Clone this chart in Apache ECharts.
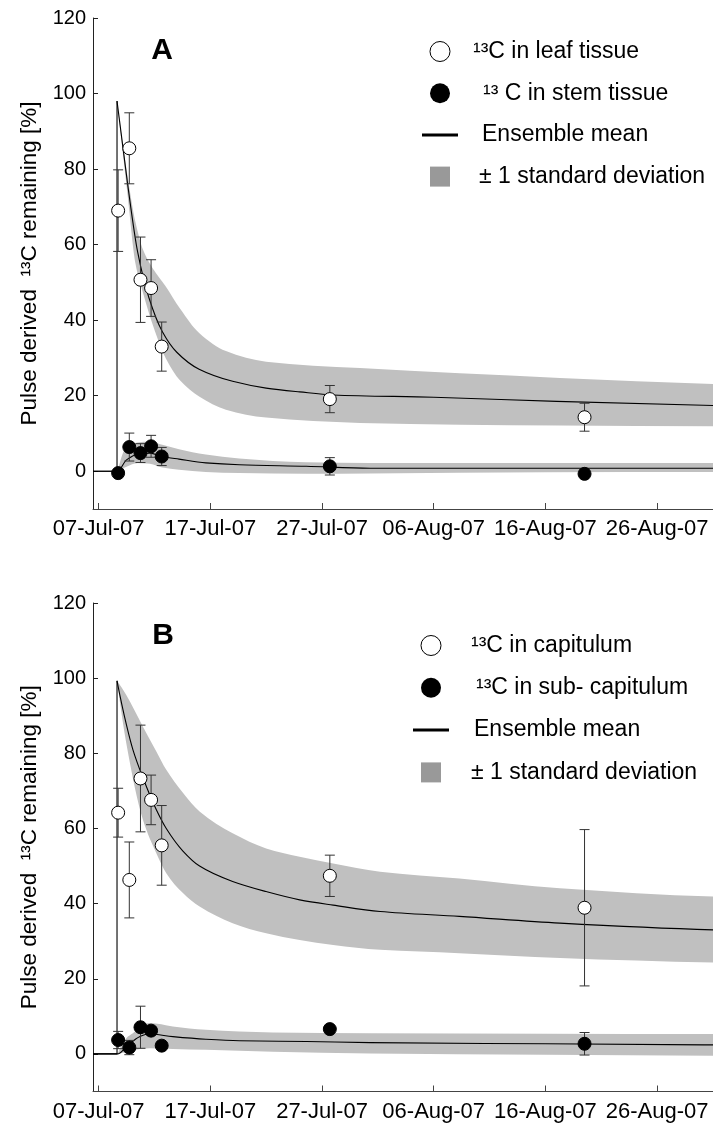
<!DOCTYPE html>
<html>
<head>
<meta charset="utf-8">
<script src="https://cdn.jsdelivr.net/npm/echarts@6/dist/echarts.min.js"></script>
<style>
  html, body { margin: 0; padding: 0; background: #ffffff; }
  #chart { width: 713px; height: 1124px; }
</style>
</head>
<body>
<div id="chart"></div>
<script>
// Time is counted in days after 07-Jul-07.
const tickDays = [0, 10, 20, 30, 40, 50];
const tickLabels = ['07-Jul-07', '17-Jul-07', '27-Jul-07', '06-Aug-07', '16-Aug-07', '26-Aug-07'];
const yTicks = [0, 20, 40, 60, 80, 100, 120];

// ---- Panel A: leaf and stem tissue ----
const sampleDaysA = [1.75, 2.75, 3.75, 4.7, 5.65, 20.7, 43.5];
const leafValues = [69, 85.5, 50.7, 48.5, 33, 19.1, 14.3];
const leafSd = [10.8, 9.4, 11.3, 7.5, 6.5, 3.6, 3.7];
const stemValues = [-0.5, 6.4, 4.8, 6.6, 3.9, 1.3, -0.7];
const stemSd = [0, 3.7, 2.5, 2.9, 2.4, 2.3, 0];

const leafMeanDays = [1.65, 2.6, 3.5, 4.5, 5.7, 7, 9, 12, 15, 18, 21, 30, 41, 55];
const leafMean = [98, 76, 58, 46, 37, 31.5, 27, 23.8, 22, 21, 20.2, 19.6, 18.5, 17.4];
const leafBandDays = [1.65, 2.6, 3.3, 4.0, 4.9, 6.0, 7.3, 9.0, 11.4, 15, 23.4, 41.3, 55];
const leafUpper = [98, 78, 66, 58.5, 53.5, 49, 43, 36.6, 31.8, 29, 27.3, 24.7, 23.1];
const leafLower = [98, 73, 55, 47, 38.3, 30, 24, 19.8, 16.3, 14.2, 12.8, 12.1, 11.9];

const stemMeanDays = [-0.5, 1.7, 2.5, 3.5, 4.6, 5.7, 7.2, 9.6, 12.6, 18.6, 24.3, 40, 55];
const stemMean = [0, 0, 3.0, 4.5, 4.8, 3.9, 3.2, 2.2, 1.7, 1.3, 0.8, 0.8, 0.8];
const stemBandDays = [1.7, 2.5, 3.5, 4.6, 5.7, 7.2, 9.6, 12.6, 18.6, 24.3, 40, 55];
const stemUpper = [0, 6.5, 7.6, 7.9, 7.0, 5.8, 4.4, 3.4, 2.4, 2.2, 2.2, 2.2];
const stemLower = [0, 1.2, 2.2, 2.0, 1.0, 0.4, -0.2, -0.5, -0.7, -0.6, -0.3, -0.2];

// ---- Panel B: capitulum and sub-capitulum ----
const sampleDaysB = [1.75, 2.75, 3.75, 4.7, 5.65, 20.7, 43.5];
const capValues = [64.2, 46.3, 73.3, 67.6, 55.5, 47.4, 38.9];
const capSd = [6.5, 10.1, 14.2, 6.6, 10.6, 5.5, 20.8];
const subValues = [3.7, 1.7, 7.1, 6.2, 2.2, 6.6, 2.7];
const subSd = [2.3, 1.9, 5.6, 0, 0, 0, 3.0];

const capMeanDays = [1.65, 2.5, 3.07, 3.97, 5.17, 6.06, 7.55, 9.04, 12, 15, 18, 21, 25.2, 32.3, 41.3, 55];
const capMean = [99.3, 87.5, 81, 73.5, 65, 60, 54, 50, 45.9, 43.2, 41, 39.6, 37.9, 36.6, 34.8, 33];
const capBandDays = [1.65, 2.48, 3.97, 5.17, 6.06, 7.55, 9.04, 12, 15, 18, 21, 25.2, 32.3, 41.3, 55];
const capUpper = [99.3, 95.5, 87.1, 80.5, 75.6, 69.5, 64.5, 58.7, 54.7, 52.5, 50.7, 48.5, 46.7, 44.1, 41.9];
const capLower = [99.3, 82.7, 62.3, 53.4, 48.1, 42.8, 39.2, 34.8, 32.1, 30.3, 29, 27.7, 26.8, 25.5, 24.3];

const subMeanDays = [-0.5, 1.7, 2.48, 3.67, 4.5, 6.65, 9.6, 12.6, 18.6, 24.3, 40, 55];
const subMean = [0, 0, 1.9, 4.6, 5.3, 4.6, 3.9, 3.5, 3.3, 3.0, 2.7, 2.4];
const subBandDays = [1.7, 2.48, 3.07, 4.57, 6.65, 9.6, 15.6, 24.3, 40, 55];
const subUpper = [0, 4.2, 5.5, 8.2, 7.3, 6.4, 5.7, 5.5, 5.4, 5.3];
const subLower = [0, 0.5, 1.0, 1.5, 1.3, 1.1, 0.6, 0.1, -0.2, -0.5];

const FONT = 'Liberation Sans, Arial, Helvetica, sans-serif';
const X_MIN = -0.5, X_MAX = 55;
const MEAN_NAME = 'Ensemble mean';
const SD_NAME = '\u00b1 1 standard deviation';

const zip = (xs, ys) => xs.map((x, i) => [x, ys[i]]);

// Shape-preserving piecewise cubic through pixel points (x strictly increasing).
// Returns cubic Bezier segments [c1x, c1y, c2x, c2y, x, y].
function pchipSegments(p) {
  const n = p.length;
  const h = [], d = [], m = new Array(n);
  for (let i = 0; i < n - 1; i++) {
    h[i] = p[i + 1][0] - p[i][0];
    d[i] = (p[i + 1][1] - p[i][1]) / h[i];
  }
  const endSlope = (h0, h1, d0, d1) => {
    let s = ((2 * h0 + h1) * d0 - h0 * d1) / (h0 + h1);
    if (Math.sign(s) !== Math.sign(d0)) s = 0;
    else if (Math.sign(d0) !== Math.sign(d1) && Math.abs(s) > Math.abs(3 * d0)) s = 3 * d0;
    return s;
  };
  if (n === 2) { m[0] = m[1] = d[0]; }
  else {
    for (let i = 1; i < n - 1; i++) {
      if (d[i - 1] * d[i] <= 0) m[i] = 0;
      else {
        const w1 = 2 * h[i] + h[i - 1], w2 = h[i] + 2 * h[i - 1];
        m[i] = (w1 + w2) / (w1 / d[i - 1] + w2 / d[i]);
      }
    }
    m[0] = endSlope(h[0], h[1], d[0], d[1]);
    m[n - 1] = endSlope(h[n - 2], h[n - 3], d[n - 2], d[n - 3]);
  }
  const segs = [];
  for (let i = 0; i < n - 1; i++) {
    const t = h[i] / 3;
    segs.push([p[i][0] + t, p[i][1] + m[i] * t, p[i + 1][0] - t, p[i + 1][1] - m[i + 1] * t, p[i + 1][0], p[i + 1][1]]);
  }
  return segs;
}

function curvePath(p) {
  let s = 'M' + p[0][0] + ' ' + p[0][1];
  pchipSegments(p).forEach(c => { s += 'C' + c.join(' '); });
  return s;
}

// Shaded ±1 SD envelope: upper edge forward, lower edge back, closed.
function band(gi, days, upper, lower) {
  return {
    type: 'custom', name: SD_NAME, xAxisIndex: gi, yAxisIndex: gi, silent: true, z: 1, clip: true,
    data: days.map((d, i) => [d, lower[i], upper[i]]),
    encode: { x: 0, y: [1, 2] },
    renderItem: function (params, api) {
      if (params.dataIndex !== 0) return null;
      const up = days.map((d, i) => api.coord([d, upper[i]]));
      const lo = days.map((d, i) => api.coord([d, lower[i]]));
      let path = curvePath(up);
      const n = lo.length;
      path += 'L' + lo[n - 1][0] + ' ' + lo[n - 1][1];
      const segs = pchipSegments(lo);
      for (let i = n - 2; i >= 0; i--) {
        const c = segs[i];
        path += 'C' + [c[2], c[3], c[0], c[1], lo[i][0], lo[i][1]].join(' ');
      }
      path += 'Z';
      return { type: 'path', shape: { pathData: path }, style: { fill: '#c0c0c0', stroke: null } };
    }
  };
}

function meanCurve(gi, days, vals) {
  return {
    type: 'custom', name: MEAN_NAME, xAxisIndex: gi, yAxisIndex: gi, silent: true, z: 2, clip: true,
    data: zip(days, vals),
    encode: { x: 0, y: 1 },
    renderItem: function (params, api) {
      if (params.dataIndex !== 0) return null;
      const p = days.map((d, i) => api.coord([d, vals[i]]));
      return { type: 'path', shape: { pathData: curvePath(p) }, style: { fill: null, stroke: '#000', lineWidth: 1.1 } };
    }
  };
}

// flat pre-pulse baseline and the instantaneous label uptake
function pulseLine(gi, days, vals) {
  return {
    type: 'line', name: MEAN_NAME, xAxisIndex: gi, yAxisIndex: gi, symbol: 'none', silent: true, z: 2,
    data: [[X_MIN, 0], [days[0], 0], [days[0], vals[0]]],
    lineStyle: { color: '#000', width: 1.1 }
  };
}

function errorBars(gi, days, vals, sd) {
  return {
    type: 'custom', xAxisIndex: gi, yAxisIndex: gi, silent: true, z: 3,
    data: days.map((d, i) => [d, vals[i], sd[i]]),
    encode: { x: 0, y: 1 },
    renderItem: function (params, api) {
      const x = api.value(0), y = api.value(1), e = api.value(2);
      if (!e) return null;
      const top = api.coord([x, y + e]);
      const bot = api.coord([x, y - e]);
      const w = 5;
      const st = { stroke: '#333', lineWidth: 1 };
      return {
        type: 'group',
        children: [
          { type: 'line', shape: { x1: top[0], y1: top[1], x2: bot[0], y2: bot[1] }, style: st },
          { type: 'line', shape: { x1: top[0] - w, y1: top[1], x2: top[0] + w, y2: top[1] }, style: st },
          { type: 'line', shape: { x1: bot[0] - w, y1: bot[1], x2: bot[0] + w, y2: bot[1] }, style: st }
        ]
      };
    }
  };
}

function points(gi, name, days, vals, filled) {
  return {
    type: 'scatter', name: name, xAxisIndex: gi, yAxisIndex: gi, z: 4, silent: true,
    symbol: 'circle', symbolSize: 13,
    data: zip(days, vals),
    itemStyle: filled
      ? { color: '#000', borderColor: '#000', borderWidth: 1, opacity: 1 }
      : { color: '#fff', borderColor: '#000', borderWidth: 1, opacity: 1 }
  };
}

const NAMES_A = ['\u00b9\u00b3C in leaf tissue', '\u00b9\u00b3 C in stem tissue', MEAN_NAME, SD_NAME];
const NAMES_B = ['\u00b9\u00b3C in capitulum', '\u00b9\u00b3C in sub- capitulum', MEAN_NAME, SD_NAME];

function legend(left, top, names, pads, gap) {
  const rich = {};
  pads.forEach((p, i) => {
    rich['t' + i] = { fontSize: 23, fontFamily: FONT, color: '#000', lineHeight: 22, padding: [0, 0, 0, p] };
  });
  return {
    left: left, top: top, orient: 'vertical', itemWidth: 36, itemHeight: 20, itemGap: gap,
    selectedMode: false, symbolKeepAspect: true,
    textStyle: { fontSize: 23, fontFamily: FONT, color: '#000', lineHeight: 22, rich: rich },
    formatter: function (name) { return '{t' + names.indexOf(name) + '|' + name + '}'; },
    data: [
      { name: names[0], icon: 'circle', itemStyle: { color: '#fff', borderColor: '#000', borderWidth: 1, opacity: 1 } },
      { name: names[1], icon: 'circle', itemStyle: { color: '#000', borderColor: '#000', borderWidth: 0, opacity: 1 } },
      { name: names[2], icon: 'path://M0,0H36V3H0Z', itemStyle: { color: '#000', borderWidth: 0 } },
      { name: names[3], icon: 'path://M0,0H20V20H0Z', itemStyle: { color: '#999999', borderWidth: 0 } }
    ]
  };
}

function xAxis(gi) {
  return {
    type: 'value', gridIndex: gi, min: X_MIN, max: X_MAX,
    splitLine: { show: false },
    axisLine: { onZero: false, lineStyle: { color: '#444', width: 1 } },
    axisTick: { inside: true, length: 6, customValues: tickDays, lineStyle: { color: '#444' } },
    axisLabel: {
      customValues: tickDays, margin: 9, fontSize: 22, fontFamily: FONT, color: '#000',
      formatter: function (v) { const i = tickDays.indexOf(v); return i >= 0 ? tickLabels[i] : ''; }
    }
  };
}

function yAxis(gi) {
  return {
    type: 'value', gridIndex: gi, min: -10, max: 120,
    splitLine: { show: false },
    axisLine: { onZero: false, lineStyle: { color: '#222', width: 1 } },
    axisTick: { inside: true, length: 5, customValues: yTicks, lineStyle: { color: '#222' } },
    axisLabel: { customValues: yTicks, margin: 7, fontSize: 20, fontFamily: FONT, color: '#000' },
    name: 'Pulse derived  \u00b9\u00b3C remaining [%]',
    nameLocation: 'middle', nameRotate: 90, nameGap: 50,
    nameTextStyle: { fontSize: 22.5, fontFamily: FONT, color: '#000' }
  };
}

const series = [
  band(0, leafBandDays, leafUpper, leafLower),
  band(0, stemBandDays, stemUpper, stemLower),
  pulseLine(0, leafMeanDays, leafMean),
  meanCurve(0, leafMeanDays, leafMean),
  meanCurve(0, stemMeanDays, stemMean),
  errorBars(0, sampleDaysA, leafValues, leafSd),
  errorBars(0, sampleDaysA, stemValues, stemSd),
  points(0, NAMES_A[0], sampleDaysA, leafValues, false),
  points(0, NAMES_A[1], sampleDaysA, stemValues, true),

  band(1, capBandDays, capUpper, capLower),
  band(1, subBandDays, subUpper, subLower),
  pulseLine(1, capMeanDays, capMean),
  meanCurve(1, capMeanDays, capMean),
  meanCurve(1, subMeanDays, subMean),
  errorBars(1, sampleDaysB, capValues, capSd),
  errorBars(1, sampleDaysB, subValues, subSd),
  points(1, NAMES_B[0], sampleDaysB, capValues, false),
  points(1, NAMES_B[1], sampleDaysB, subValues, true)
];

const chart = echarts.init(document.getElementById('chart'), null, { renderer: 'canvas' });
chart.setOption({
  animation: false,
  backgroundColor: '#ffffff',
  textStyle: { fontFamily: FONT },
  grid: [
    { left: 93, top: 18, width: 620, height: 491 },
    { left: 93, top: 603, width: 620, height: 488.5 }
  ],
  xAxis: [xAxis(0), xAxis(1)],
  yAxis: [yAxis(0), yAxis(1)],
  legend: [
    legend(417, 35, NAMES_A, [10, 20, 19, 16], 18.7),
    legend(408, 629, NAMES_B, [17, 22, 20, 17], 19.3)
  ],
  graphic: [
    { type: 'text', x: 162, y: 51, style: { text: 'A', fontSize: 30, fontWeight: 'bold', fontFamily: FONT, fill: '#000', align: 'center', verticalAlign: 'middle' } },
    { type: 'text', x: 163, y: 636, style: { text: 'B', fontSize: 30, fontWeight: 'bold', fontFamily: FONT, fill: '#000', align: 'center', verticalAlign: 'middle' } }
  ],
  series: series
});
</script>
</body>
</html>
